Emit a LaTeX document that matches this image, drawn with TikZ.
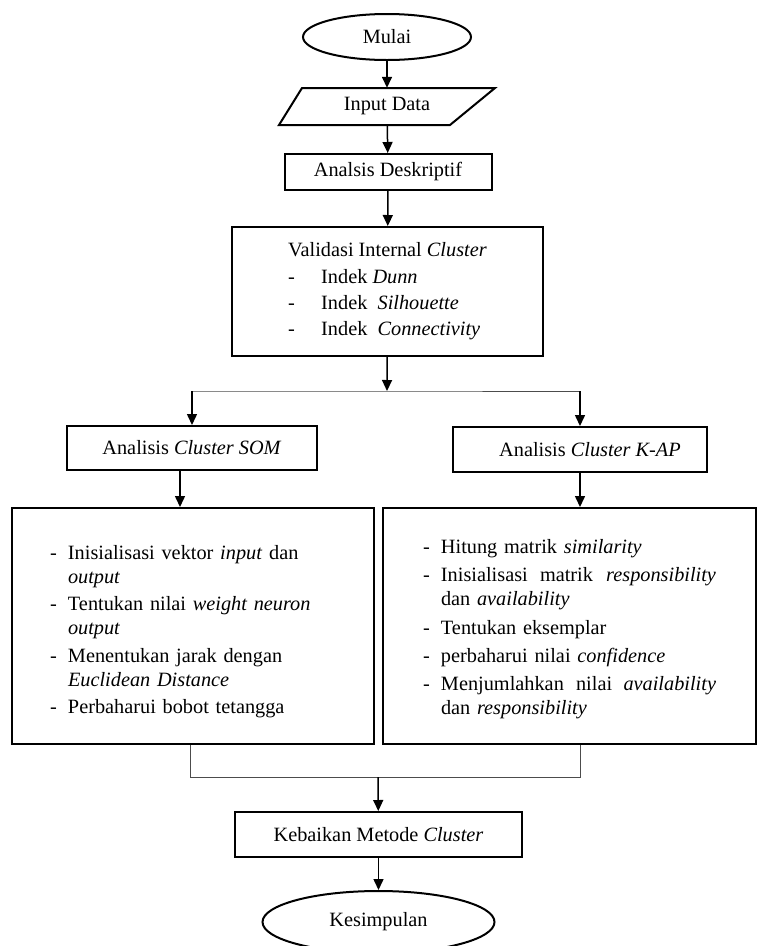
\documentclass[tikz,border=0pt]{standalone}
\usepackage{fontspec}
\setmainfont{Liberation Serif}
\usetikzlibrary{arrows.meta,shapes.geometric}
\newcommand{\butir}{\makebox[18pt][l]{-}}
\newcommand{\lanjut}{\makebox[18pt][l]{}}
\newcommand{\strip}{\makebox[33pt][l]{-}}

\begin{document}
\begin{tikzpicture}[x=1pt,y=-1pt,
	font=\fontsize{20.3pt}{24pt}\selectfont,
	kotak/.style={draw,line width=2pt,rectangle,inner sep=0pt},
	oval/.style={draw,line width=2pt,ellipse,inner sep=0pt},
	panah/.style={line width=1.5pt,-{Triangle[length=11pt,width=10pt]}},
	garis/.style={line width=1pt,black!70}]
	\useasboundingbox (0,0) rectangle (768,946);
	\coordinate (bagi) at (387,391);
	\coordinate (gabung) at (378,777);
	\node[oval,minimum width=168pt,minimum height=46pt] (mulai) at (387,37) {Mulai};
	\node[inner sep=0pt,minimum width=200pt,minimum height=37pt] (input) at (387,106.5) {Input Data};
	\draw[line width=2pt,line join=miter] (279,125) -- (302,88) -- (495,88) -- (450,125) -- cycle;
	\node[kotak,minimum width=207pt,minimum height=36pt] (deskriptif) at (388,172) {Analsis Deskriptif};
	\node[kotak,align=left,minimum width=311pt,minimum height=129pt] (validasi) at (387.5,291.5)
	{Validasi Internal \textit{Cluster}\\[3pt]
		\strip Indek \textit{Dunn}\\[2pt]
		\strip Indek \ \textit{Silhouette}\\[2pt]
		\strip Indek \ \textit{Connectivity}};
	\node[kotak,minimum width=250pt,minimum height=44pt] (som) at (192,448) {Analisis \textit{Cluster SOM}};
	\node[kotak,minimum width=254pt,minimum height=45pt] (kap) at (580,449.5) {\hspace*{20pt}Analisis \textit{Cluster K-AP}};
	\node[kotak,align=left,text width=286pt,inner xsep=38pt,minimum height=236pt] (kiri) at (193,626)
	{\rule{0pt}{25pt}\butir Inisialisasi vektor \textit{input} dan\\
		\lanjut\textit{output}\\[3pt]
		\butir Tentukan nilai \textit{weight neuron}\\
		\lanjut\textit{output}\\[4pt]
		\butir Menentukan jarak dengan\\
		\lanjut\textit{Euclidean Distance}\\[3pt]
		\butir Perbaharui bobot tetangga};
	\node[kotak,align=left,text width=293pt,inner xsep=40pt,minimum height=236pt] (kanan) at (569.5,626)
	{\rule{0pt}{21pt}\butir Hitung matrik \textit{similarity}\\[4pt]
		\butir\makebox[275pt][l]{Inisialisasi\hspace{0.6em}matrik\hfill\textit{responsibility}}\\
		\lanjut dan \textit{availability}\\[5pt]
		\butir Tentukan eksemplar\\[4pt]
		\butir perbaharui nilai \textit{confidence}\\[4pt]
		\butir\makebox[275pt][l]{Menjumlahkan\hspace{0.6em}nilai\hfill\textit{availability}}\\
		\lanjut dan \textit{responsibility}};
	\node[kotak,minimum width=287pt,minimum height=45pt] (kebaikan) at (378.5,834.5) {Kebaikan Metode \textit{Cluster}};
	\node[oval,minimum width=232pt,minimum height=62pt] (kesimpulan) at (378.5,922) {Kesimpulan};
	\draw[panah] (mulai) -- (input);
	\draw[panah] (input) -- (deskriptif);
	\draw[panah] (deskriptif) -- (validasi);
	\draw[panah] (validasi) -- (bagi);
	\draw[garis] (som.north |- bagi) -- (bagi) -- (kap.north |- bagi);
	\draw[panah] (som.north |- bagi) -- (som);
	\draw[panah] (kap.north |- bagi) -- (kap);
	\draw[panah] ([xshift=-12pt]som.south) -- ([xshift=-12pt]som.south |- kiri.north);
	\draw[panah] (kap.south) -- (kap.south |- kanan.north);
	\draw[garis] ([xshift=-3pt]kiri.south) |- (gabung);
	\draw[garis] ([xshift=11pt]kanan.south) |- (gabung);
	\draw[panah] (gabung) -- (kebaikan);
	\draw[panah] (kebaikan) -- (kesimpulan);
\end{tikzpicture}
\end{document}
